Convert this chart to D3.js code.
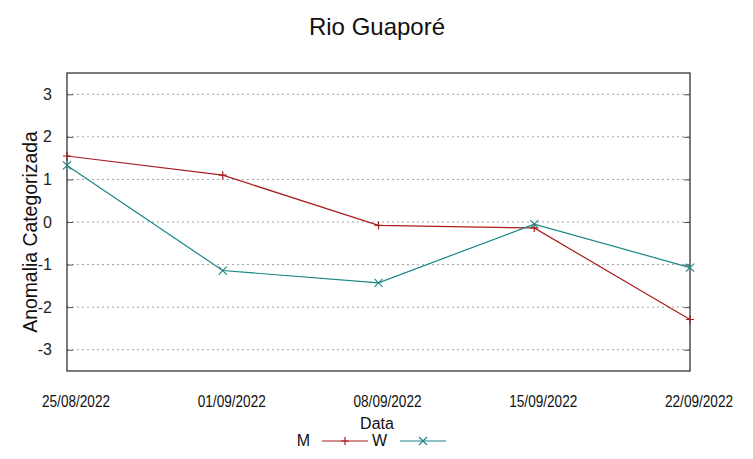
<!DOCTYPE html>
<html><head><meta charset="utf-8">
<script src="https://cdn.jsdelivr.net/npm/d3@7"></script>
<style>body{margin:0;background:#fff}svg{display:block;font-family:"Liberation Sans",Arial,sans-serif}</style>
</head><body>
<script>
const dates = ["25/08/2022","01/09/2022","08/09/2022","15/09/2022","22/09/2022"];
const seriesM = [1.55, 1.10, -0.08, -0.14, -2.29];
const seriesW = [1.33, -1.14, -1.43, -0.05, -1.07];
const yTicks = [-3,-2,-1,0,1,2,3];
const title = "Rio Guaporé";
const xLabel = "Data";
const yLabel = "Anomalia Categorizada";

const W = 753, H = 459;
const m = {l:67, r:690, t:73, b:371};
const svg = d3.select("body").append("svg").attr("width",W).attr("height",H);
const x = d3.scalePoint().domain(dates).range([m.l, m.r]);
const y = d3.scaleLinear().domain([-3.5,3.5]).range([m.b, m.t]);

// grid
svg.append("g").selectAll("line").data(yTicks).join("line")
  .attr("x1",m.l).attr("x2",m.r).attr("y1",d=>y(d)).attr("y2",d=>y(d))
  .attr("stroke","#a0a0a0").attr("stroke-width",1).attr("stroke-dasharray","2,3");

// y axis
const yAx = svg.append("g").attr("transform",`translate(${m.l},0)`)
  .call(d3.axisLeft(y).tickValues(yTicks).tickSize(-6).tickPadding(15).tickFormat(d=>String(d)));
yAx.select(".domain").remove();
yAx.selectAll("text").attr("font-size",16).attr("fill","#222").attr("font-family","Liberation Sans, Arial, sans-serif");
yAx.selectAll("line").attr("stroke","#555");
const yAxR = svg.append("g").attr("transform",`translate(${m.r},0)`)
  .call(d3.axisRight(y).tickValues(yTicks).tickSize(-6).tickFormat(""));
yAxR.select(".domain").remove();
yAxR.selectAll("line").attr("stroke","#555");

// x axis labels
const xAx = svg.append("g").attr("transform",`translate(8.5,${m.b})`)
  .call(d3.axisBottom(x).tickSize(0).tickPadding(24));
xAx.select(".domain").remove();
xAx.selectAll("text").attr("font-size",16.5).attr("fill","#111")
  .attr("font-family","Liberation Sans, Arial, sans-serif")
  .attr("textLength",68).attr("lengthAdjust","spacingAndGlyphs");

// border
svg.append("rect").attr("x",m.l).attr("y",m.t).attr("width",m.r-m.l).attr("height",m.b-m.t)
  .attr("fill","none").attr("stroke","#333").attr("stroke-width",1.3);

const colM = "#a81d1d", colW = "#1a8585";
const line = d3.line().x((d,i)=>x(dates[i])).y(d=>y(d));
function plus(g, px, py, c){ g.append("path").attr("d",`M${px-4},${py}H${px+4}M${px},${py-4}V${py+4}`).attr("stroke",c).attr("stroke-width",1.2).attr("fill","none"); }
function cross(g, px, py, c){ g.append("path").attr("d",`M${px-4},${py-4}L${px+4},${py+4}M${px-4},${py+4}L${px+4},${py-4}`).attr("stroke",c).attr("stroke-width",1.1).attr("fill","none"); }

const gM = svg.append("g");
gM.append("path").datum(seriesM).attr("d",line).attr("fill","none").attr("stroke",colM).attr("stroke-width",1.2);
seriesM.forEach((v,i)=>plus(gM,x(dates[i]),y(v),colM));
const gW = svg.append("g");
gW.append("path").datum(seriesW).attr("d",line).attr("fill","none").attr("stroke",colW).attr("stroke-width",1.2);
seriesW.forEach((v,i)=>cross(gW,x(dates[i]),y(v),colW));

// title & labels
svg.append("text").attr("x",377).attr("y",35).attr("text-anchor","middle").attr("font-size",24).attr("fill","#111").text(title);
svg.append("text").attr("x",377).attr("y",429).attr("text-anchor","middle").attr("font-size",16).attr("fill","#111").text(xLabel);
svg.append("text").attr("transform","translate(37,232) rotate(-90)").attr("text-anchor","middle").attr("font-size",19.4).attr("fill","#111").text(yLabel);

// legend
const lg = svg.append("g");
lg.append("text").attr("x",310).attr("y",446).attr("text-anchor","end").attr("font-size",16).attr("fill","#111").text("M");
lg.append("line").attr("x1",322).attr("x2",368).attr("y1",441).attr("y2",441).attr("stroke",colM).attr("stroke-width",1.2);
plus(lg,345,441,colM);
lg.append("text").attr("x",387).attr("y",446).attr("text-anchor","end").attr("font-size",16).attr("fill","#111").text("W");
lg.append("line").attr("x1",400).attr("x2",446).attr("y1",441).attr("y2",441).attr("stroke",colW).attr("stroke-width",1.2);
cross(lg,423,441,colW);
</script>
</body></html>
